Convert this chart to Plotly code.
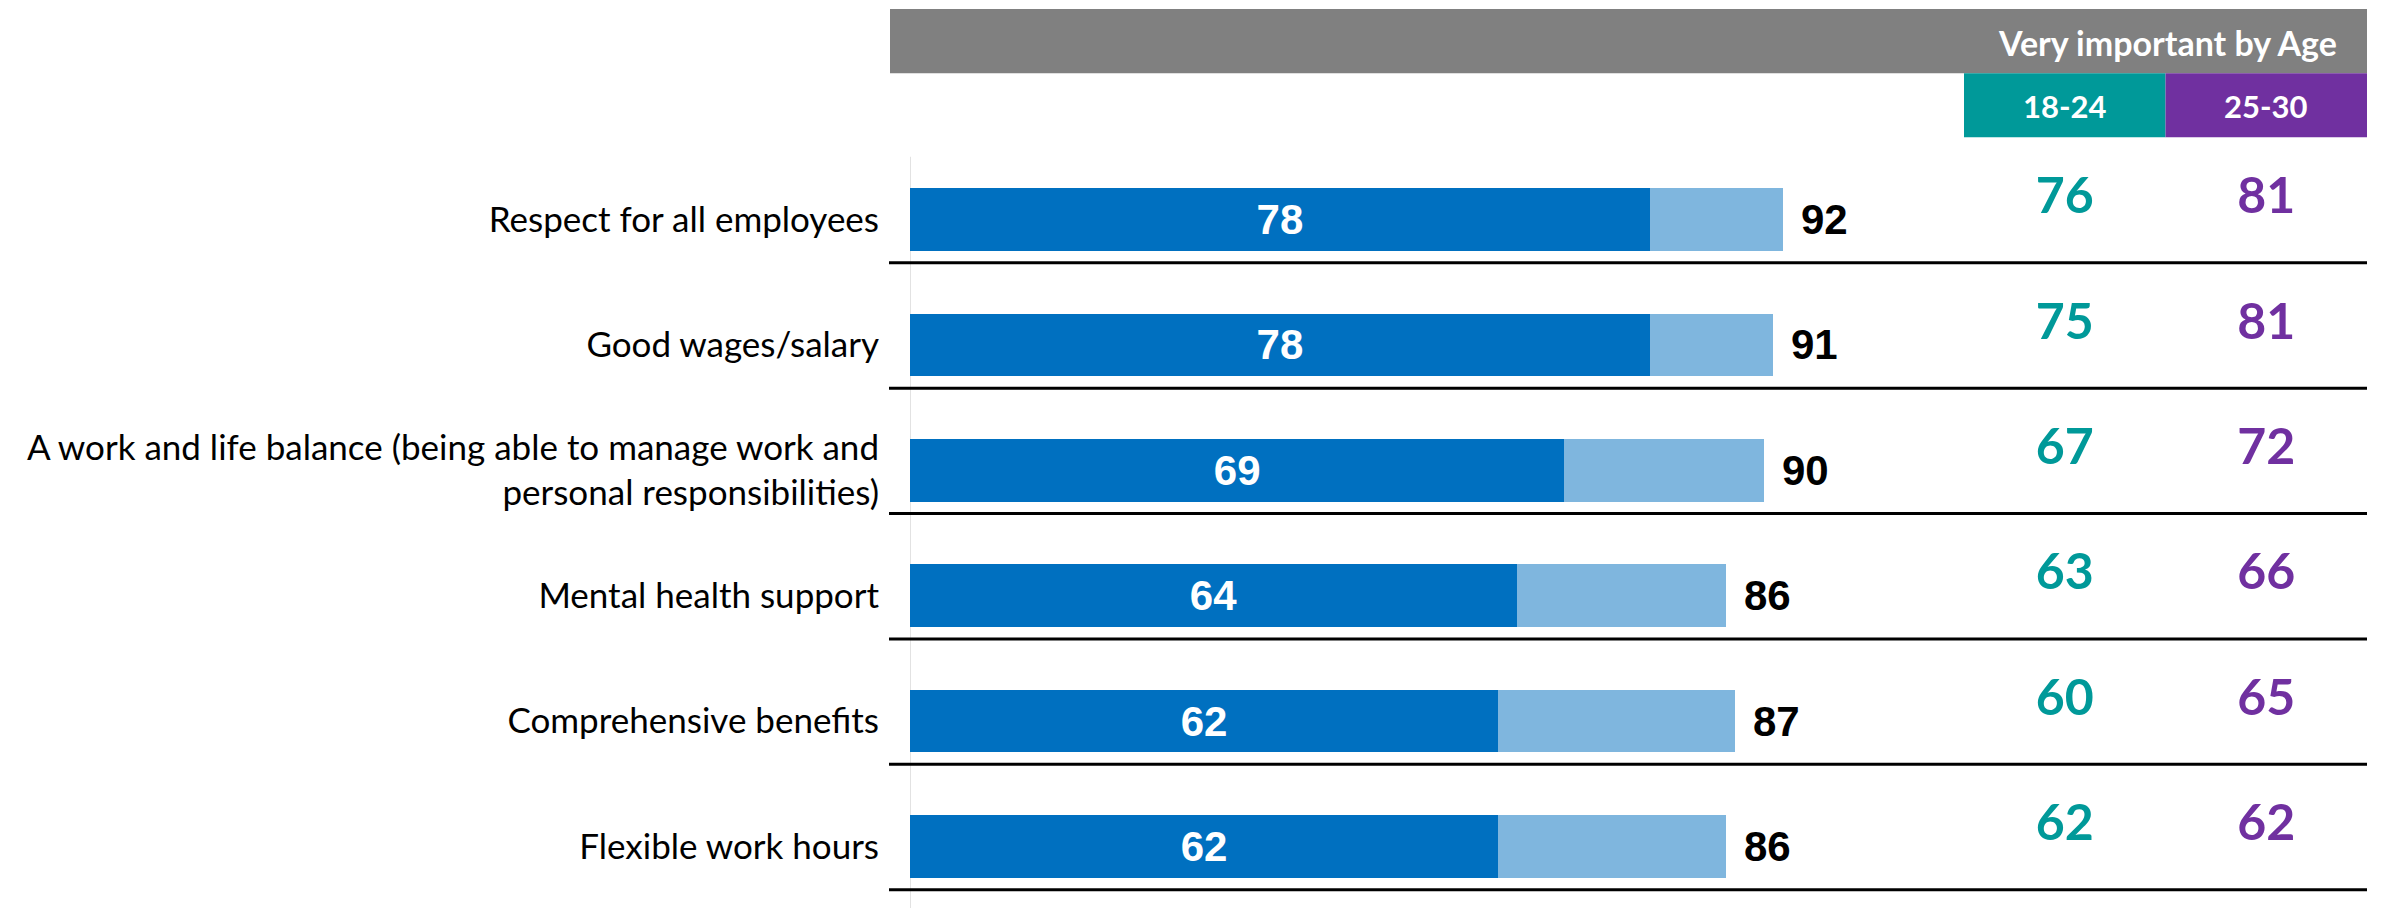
import plotly.graph_objects as go

# --- data -------------------------------------------------------------------
categories = [
    "Respect for all employees",
    "Good wages/salary",
    "A work and life balance (being able to manage work and<br>personal responsibilities)",
    "Mental health support",
    "Comprehensive benefits",
    "Flexible work hours",
]
very_important = [78, 78, 69, 64, 62, 62]
total_important = [92, 91, 90, 86, 87, 86]

age_groups = ["18-24", "25-30"]
very_important_18_24 = [76, 75, 67, 63, 60, 62]
very_important_25_30 = [81, 81, 72, 66, 65, 62]
header_title = "Very important by Age"

# --- styling ----------------------------------------------------------------
W, H = 2381, 908
DARK_BLUE = "#0070C0"
LIGHT_BLUE = "#7FB6DE"
TEAL = "#009999"
PURPLE = "#7030A0"
GREY = "#808080"
LABEL_FONT = "Lato, 'Open Sans', sans-serif"
BAR_FONT = "'Liberation Sans', Arial, sans-serif"

PX_PER_UNIT = 9.485          # horizontal scale of the bar axis
ROW_PX = 125.4               # vertical distance between rows
FIRST_ROW_PX = 219.5         # centre of the first row from the top
BAR_LEFT_PX, TABLE_LEFT_PX, TABLE_RIGHT_PX = 910, 1964, 2367

y_top = -FIRST_ROW_PX / ROW_PX
y_bottom = (H - FIRST_ROW_PX) / ROW_PX

rows = list(range(len(categories)))
somewhat_only = [t - v for t, v in zip(total_important, very_important)]

fig = go.Figure()

# stacked bars: "very important" + the remaining share of the total
fig.add_trace(go.Bar(
    y=rows, x=very_important, orientation="h", width=0.5,
    marker=dict(color=DARK_BLUE, line=dict(width=0)),
    text=very_important, textposition="inside", insidetextanchor="middle",
    constraintext="none", textangle=0,
    insidetextfont=dict(family=BAR_FONT, size=42, color="white", weight="bold"),
    hoverinfo="skip",
))
fig.add_trace(go.Bar(
    y=rows, x=somewhat_only, orientation="h", width=0.5,
    marker=dict(color=LIGHT_BLUE, line=dict(width=0)),
    hoverinfo="skip",
))

# total labels at the end of each bar
for k, total in zip(rows, total_important):
    fig.add_annotation(
        x=total, y=k, xref="x", yref="y", text=str(total),
        xanchor="left", yanchor="middle", xshift=16, showarrow=False,
        font=dict(family=BAR_FONT, size=42, color="black", weight="bold"),
    )

# age-group table columns
for values, color, group in [
    (very_important_18_24, TEAL, age_groups[0]),
    (very_important_25_30, PURPLE, age_groups[1]),
]:
    fig.add_trace(go.Scatter(
        x=[group] * len(values), y=[k - 0.15 for k in rows],
        mode="text", text=[str(v) for v in values],
        textposition="middle center",
        textfont=dict(family=LABEL_FONT, size=50, color=color, weight="bold"),
        xaxis="x2", yaxis="y", hoverinfo="skip",
    ))

shapes = []
# grey header band
shapes.append(dict(
    type="rect", xref="paper", yref="paper",
    x0=890 / W, x1=TABLE_RIGHT_PX / W, y0=1 - 73.3 / H, y1=1 - 9 / H,
    fillcolor=GREY, line=dict(width=0), layer="below",
))
# coloured age-group header cells
for i, color in enumerate([TEAL, PURPLE]):
    shapes.append(dict(
        type="rect", xref="x2", yref="paper",
        x0=i - 0.5, x1=i + 0.5, y0=1 - 137.3 / H, y1=1 - 73.3 / H,
        fillcolor=color, line=dict(width=0), layer="below",
    ))
    fig.add_annotation(
        x=age_groups[i], y=1 - 105.5 / H, xref="x2", yref="paper",
        text=age_groups[i], showarrow=False, xanchor="center", yanchor="middle",
        font=dict(family=LABEL_FONT, size=31, color="white", weight="bold"),
    )
# row separators
for k in rows:
    shapes.append(dict(
        type="line", xref="paper", yref="y",
        x0=889 / W, x1=TABLE_RIGHT_PX / W, y0=k + 0.345, y1=k + 0.345,
        line=dict(color="black", width=3),
    ))
# light vertical baseline of the bars
shapes.append(dict(
    type="line", xref="x", yref="y", x0=0, x1=0, y0=-0.5, y1=y_bottom,
    line=dict(color="#D9D9D9", width=1.5), layer="below",
))

fig.add_annotation(
    x=2339 / W, y=1 - 42.5 / H, xref="paper", yref="paper",
    text=header_title, showarrow=False, xanchor="right", yanchor="middle",
    font=dict(family=LABEL_FONT, size=34, color="white", weight="bold"),
)

fig.update_layout(
    width=W, height=H,
    margin=dict(l=0, r=0, t=0, b=0),
    paper_bgcolor="white", plot_bgcolor="rgba(0,0,0,0)",
    barmode="stack", showlegend=False,
    shapes=shapes,
    xaxis=dict(
        domain=[BAR_LEFT_PX / W, TABLE_LEFT_PX / W],
        range=[0, (TABLE_LEFT_PX - BAR_LEFT_PX) / PX_PER_UNIT],
        visible=False, fixedrange=True,
    ),
    xaxis2=dict(
        domain=[TABLE_LEFT_PX / W, TABLE_RIGHT_PX / W],
        type="category", categoryarray=age_groups, range=[-0.5, 1.5],
        anchor="y", visible=False, fixedrange=True,
    ),
    yaxis=dict(
        domain=[0, 1], range=[y_bottom, y_top],
        tickmode="array", tickvals=rows, ticktext=categories,
        tickfont=dict(family=LABEL_FONT, size=35, color="black"),
        ticks="", ticklabelstandoff=30,
        showgrid=False, zeroline=False, showline=False, fixedrange=True,
    ),
)

fig.write_html("out.html")
